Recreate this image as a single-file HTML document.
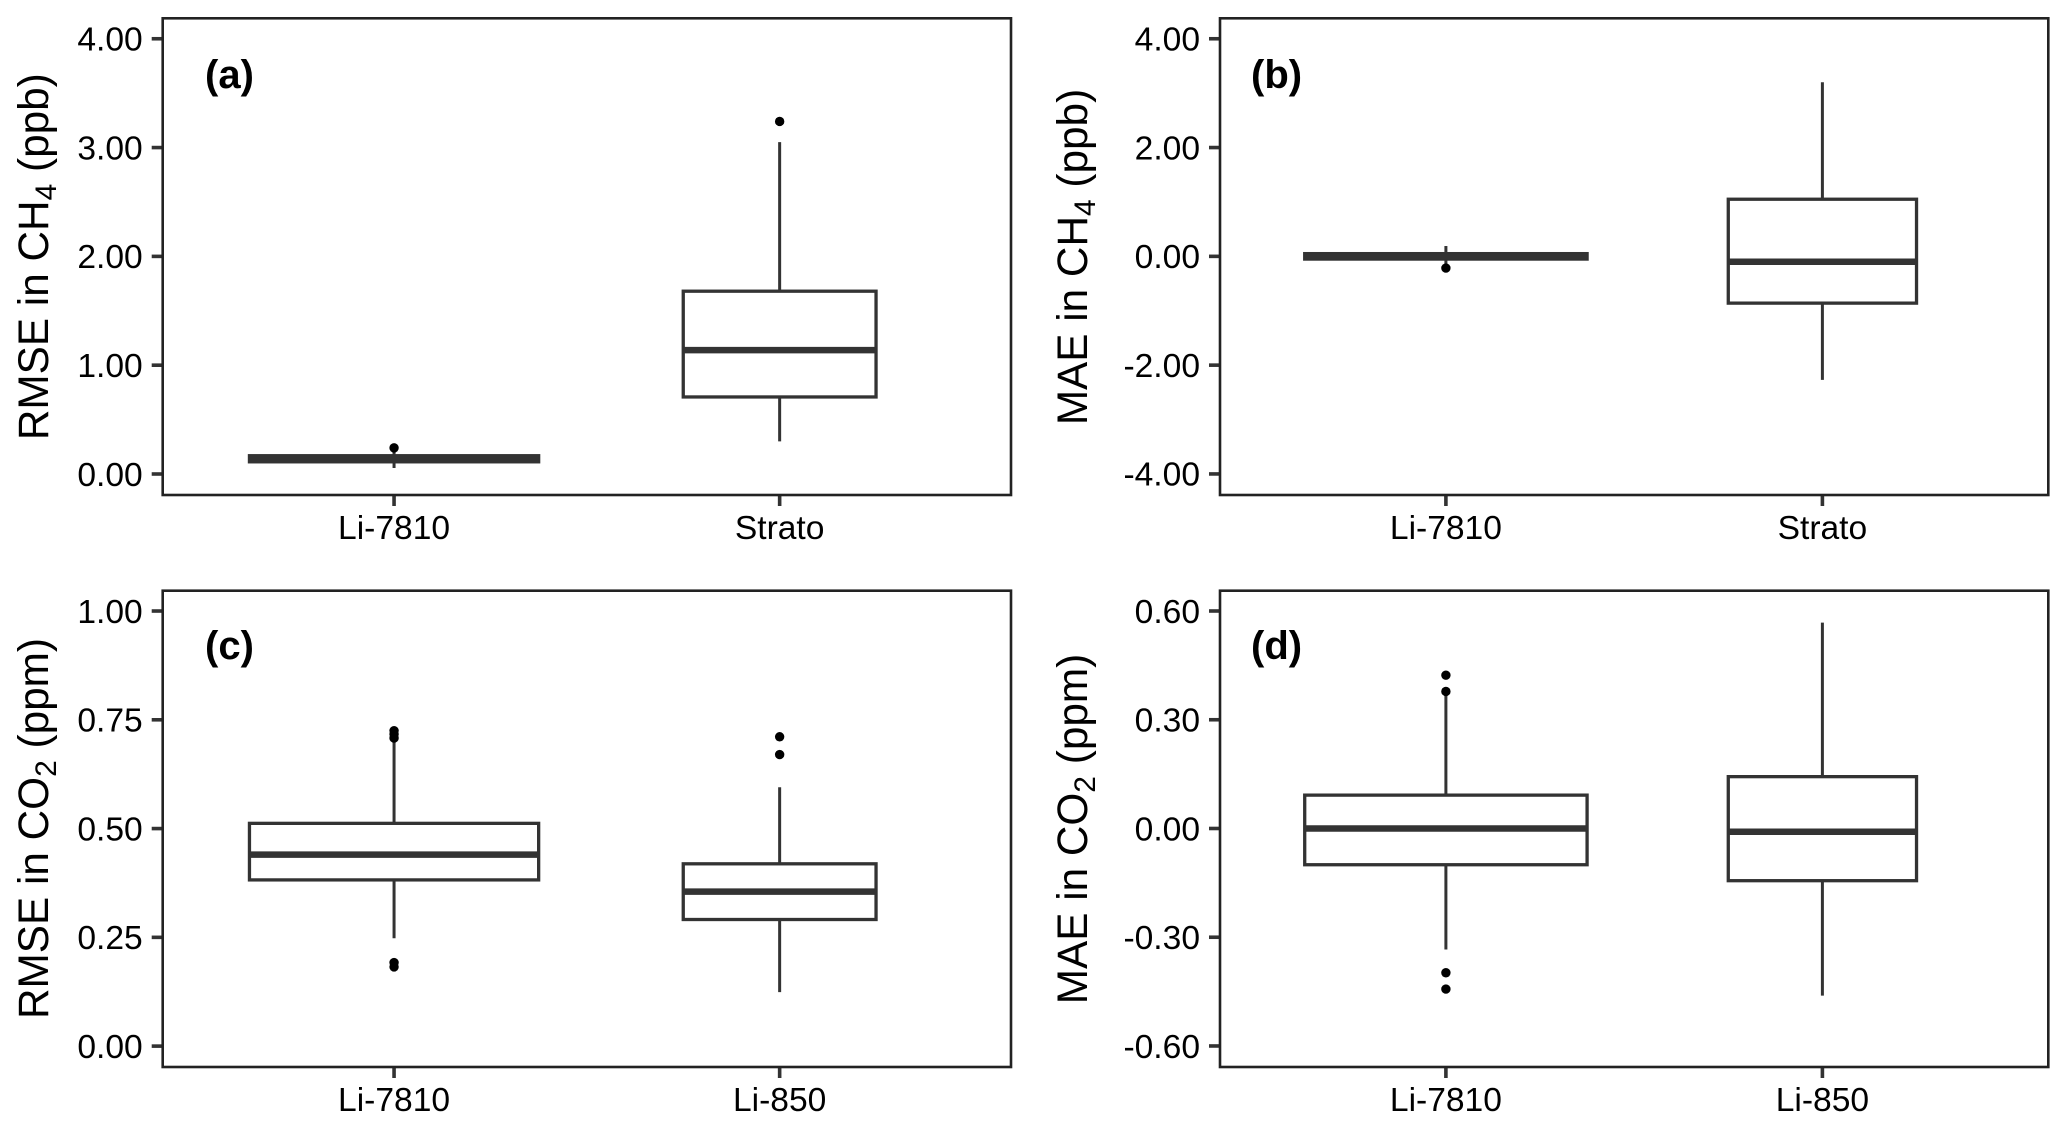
<!DOCTYPE html>
<html lang="en">
<head>
<meta charset="utf-8">
<title>RMSE and MAE box plots</title>
<style>
html,body{margin:0;padding:0;background:#fff;width:2067px;height:1129px;overflow:hidden}
svg{display:block}
text{font-family:"Liberation Sans",Arial,sans-serif;fill:#000}
.tl{font-size:33.6px}
.yt{font-size:42.3px;text-anchor:middle}
.tag{font-size:40px;font-weight:bold}
</style>
</head>
<body>
<svg id="figure" xmlns="http://www.w3.org/2000/svg" width="2067" height="1129" viewBox="0 0 2067 1129">
  <rect width="2067" height="1129" fill="#fff"/>
  <g id="panel-a">
    <text class="yt" transform="translate(48,256.7) rotate(-90)">RMSE in CH<tspan font-size="30" dy="8">4</tspan><tspan dy="-8"> (ppb)</tspan></text>
    <text class="tag" x="205" y="88">(a)</text>
  </g>
  <g id="panel-b">
    <text class="yt" transform="translate(1087,257) rotate(-90)">MAE in CH<tspan font-size="30" dy="8">4</tspan><tspan dy="-8"> (ppb)</tspan></text>
    <text class="tag" x="1251" y="88">(b)</text>
  </g>
  <g id="panel-c">
    <text class="yt" transform="translate(48,828.5) rotate(-90)">RMSE in CO<tspan font-size="30" dy="8">2</tspan><tspan dy="-8"> (ppm)</tspan></text>
    <text class="tag" x="205" y="659">(c)</text>
  </g>
  <g id="panel-d">
    <text class="yt" transform="translate(1087,829) rotate(-90)">MAE in CO<tspan font-size="30" dy="8">2</tspan><tspan dy="-8"> (ppm)</tspan></text>
    <text class="tag" x="1251" y="659">(d)</text>
  </g>
</svg>
<script>
// Panel (a)
const aCategories = ['Li-7810', 'Strato'];
const aTicks = [0, 1, 2, 3, 4];
const aWhiskerLow = [0.055, 0.30];
const aQ1 = [0.112, 0.708];
const aMedian = [0.14, 1.138];
const aQ3 = [0.168, 1.68];
const aWhiskerHigh = [0.20, 3.05];
const aOutliers = [[0.24], [3.24]];

// Panel (b)
const bCategories = ['Li-7810', 'Strato'];
const bTicks = [-4, -2, 0, 2, 4];
const bWhiskerLow = [-0.15, -2.27];
const bQ1 = [-0.05, -0.86];
const bMedian = [0, -0.10];
const bQ3 = [0.05, 1.05];
const bWhiskerHigh = [0.19, 3.2];
const bOutliers = [[-0.215], []];

// Panel (c)
const cCategories = ['Li-7810', 'Li-850'];
const cTicks = [0, 0.25, 0.5, 0.75, 1];
const cWhiskerLow = [0.248, 0.124];
const cQ1 = [0.382, 0.291];
const cMedian = [0.44, 0.355];
const cQ3 = [0.512, 0.419];
const cWhiskerHigh = [0.70, 0.595];
const cOutliers = [[0.725, 0.717, 0.708, 0.192, 0.182], [0.711, 0.67]];

// Panel (d)
const dCategories = ['Li-7810', 'Li-850'];
const dTicks = [-0.6, -0.3, 0, 0.3, 0.6];
const dWhiskerLow = [-0.334, -0.461];
const dQ1 = [-0.10, -0.144];
const dMedian = [0, -0.009];
const dQ3 = [0.092, 0.143];
const dWhiskerHigh = [0.37, 0.568];
const dOutliers = [[0.423, 0.378, -0.398, -0.443], []];

const NS = 'http://www.w3.org/2000/svg';
const INK = '#333333';

function make(parent, tag, attrs) {
  const el = document.createElementNS(NS, tag);
  for (const k in attrs) el.setAttribute(k, attrs[k]);
  parent.appendChild(el);
  return el;
}

function drawPanel(id, frame, domain, categories, ticks, wl, q1, med, q3, wh, outliers) {
  const g = document.getElementById('panel-' + id);
  const yScale = v => frame.bottom - (v - domain[0]) / (domain[1] - domain[0]) * (frame.bottom - frame.top);
  const band = (frame.right - frame.left) / 2.2;
  const xScale = i => frame.left + (0.6 + i) * band;
  const boxWidths = [0.75, 0.5];

  const bg = make(g, 'rect', {x: frame.left, y: frame.top, width: frame.right - frame.left, height: frame.bottom - frame.top, fill: '#fff'});
  
  

  ticks.forEach(t => {
    const y = yScale(t);
    const mark = make(g, 'line', {x1: frame.left - 11, x2: frame.left, y1: y, y2: y, stroke: INK, 'stroke-width': 3.6});
    
    
    const label = make(g, 'text', {class: 'tl', x: frame.left - 20, y: y + 11.8, 'text-anchor': 'end'});
    
    
    label.textContent = t.toFixed(2);
  });

  categories.forEach((name, i) => {
    const x = xScale(i);
    const mark = make(g, 'line', {x1: x, x2: x, y1: frame.bottom, y2: frame.bottom + 11, stroke: INK, 'stroke-width': 3.6});
    
    
    const label = make(g, 'text', {class: 'tl', x: x, y: frame.bottom + 44, 'text-anchor': 'middle'});
    
    
    label.textContent = name;

    const half = boxWidths[i] * band / 2;
    const whisker = make(g, 'line', {x1: x, x2: x, y1: yScale(wl[i]), y2: yScale(wh[i]), stroke: INK, 'stroke-width': 3});
    
    

    const box = make(g, 'rect', {x: x - half, y: yScale(q3[i]), width: half * 2, height: yScale(q1[i]) - yScale(q3[i]), fill: '#fff', stroke: INK, 'stroke-width': 3.3});
    
    

    const median = make(g, 'line', {x1: x - half, x2: x + half, y1: yScale(med[i]), y2: yScale(med[i]), stroke: INK, 'stroke-width': 6.5});
    
    

    outliers[i].forEach(v => {
      const dot = make(g, 'circle', {cx: x, cy: yScale(v), r: 4.7, fill: '#000'});
      
      
    });
  });

  const border = make(g, 'rect', {x: frame.left, y: frame.top, width: frame.right - frame.left, height: frame.bottom - frame.top, fill: 'none', stroke: '#222', 'stroke-width': 2.6});
  
  

  // keep the panel label above the plot background
  g.querySelectorAll('.tag').forEach(t => g.appendChild(t));
}

drawPanel('a', {left: 162.7, right: 1011, top: 18.3, bottom: 495}, [-0.193, 4.188], aCategories, aTicks, aWhiskerLow, aQ1, aMedian, aQ3, aWhiskerHigh, aOutliers);
drawPanel('b', {left: 1220, right: 2048.3, top: 18.3, bottom: 495}, [-4.387, 4.376], bCategories, bTicks, bWhiskerLow, bQ1, bMedian, bQ3, bWhiskerHigh, bOutliers);
drawPanel('c', {left: 162.7, right: 1011, top: 590.7, bottom: 1067}, [-0.048, 1.0467], cCategories, cTicks, cWhiskerLow, cQ1, cMedian, cQ3, cWhiskerHigh, cOutliers);
drawPanel('d', {left: 1220, right: 2048.3, top: 590.7, bottom: 1067}, [-0.658, 0.656], dCategories, dTicks, dWhiskerLow, dQ1, dMedian, dQ3, dWhiskerHigh, dOutliers);
</script>
</body>
</html>
